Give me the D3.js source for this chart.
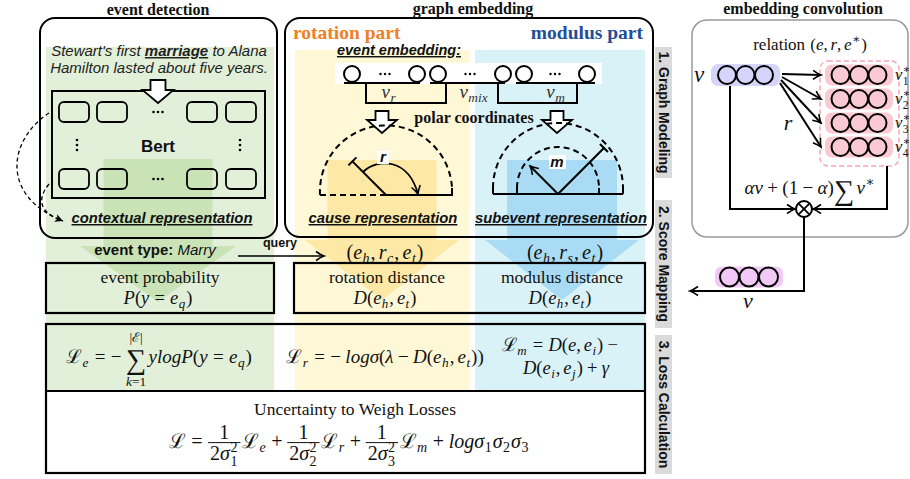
<!DOCTYPE html>
<html><head><meta charset="utf-8">
<script src="https://cdn.jsdelivr.net/npm/d3@7"></script>
<style>body{margin:0;background:#fff} svg{display:block}</style>
</head><body><svg id="c" width="910" height="479"></svg>
<script>
// ---------------- data (text content of the diagram) ----------------
const panelTitles = ["event detection", "graph embedding", "embedding convolution"];
const partTitles = ["rotation part", "modulus part"];
const stageLabels = ["1. Graph Modeling", "2. Score Mapping", "3. Loss Calculation"];
const sentenceLines = [["Stewart's first ", "marriage", " to Alana"], ["Hamilton lasted about five years."]];
const encoderName = "Bert";
const reprLabels = ["contextual representation", "cause representation", "subevent representation"];
const embeddingTitle = "event embedding:";
const embeddingParts = ["v_{r}", "v_{mix}", "v_{m}"];
const polarTitle = "polar coordinates";
const polarSymbols = ["r", "m"];
const eventTypeLabel = ["event type: ", "Marry"];
const queryLabel = "query";
const tripleLabels = ["(e_{h},r_{c},e_{t})", "(e_{h},r_{s},e_{t})"];
const scoreTitles = ["event probability", "rotation distance", "modulus distance"];
const scoreFormulas = ["P(y=e_{q})", "D(e_{h},e_{t})", "D(e_{h},e_{t})"];
const lossFormulas = ["ℒ_{e}=−\\sum_{k=1}^{|ℰ|}ylogP(y=e_{q})", "ℒ_{r}=−logσ(λ−D(e_{h},e_{t}))"];
const lossFormulaM = ["ℒ_{m}=D(e,e_{i})−", "D(e_{i},e_{j})+γ"];
const totalTitle = "Uncertainty to Weigh Losses";
const totalFormula = "ℒ=\\frac{1}{2σ_{1}^{2}}ℒ_{e}+\\frac{1}{2σ_{2}^{2}}ℒ_{r}+\\frac{1}{2σ_{3}^{2}}ℒ_{m}+logσ_{1}σ_{2}σ_{3}";
const convRelation = "\\rm{relation}~(e,r,e^{∗})";
const convSource = "v";
const convNeighbours = ["v_{1}^{∗}", "v_{2}^{∗}", "v_{3}^{∗}", "v_{4}^{∗}"];
const convEdge = "r";
const convCombine = "αv+(1−α)\\sum v^{∗}";
const convOutput = "v";
const nodesPerVector = [0, 1, 2];

// ---------------- styles ----------------
const SANS = "'Liberation Sans', Arial, sans-serif";
const SERIF = "'Liberation Serif', 'Times New Roman', 'DejaVu Serif', serif";
const C = {
  green: "#e2f0d9", greenDark: "#c9e3b6", yellow: "#fff8d6", yellowDark: "#fde8a6",
  blue: "#d9f2f7", blueDark: "#a9dcf4", orange: "#f07f27", navy: "#1f4e9a",
  purple: "#d7d4fb", pink: "#fbc9d3", pinkLine: "#f4a6b6", magenta: "#f2c8f6", gray: "#dadada"
};

const svg = d3.select("#c");
svg.append("rect").attr("width", 910).attr("height", 479).attr("fill", "#fff");
const defs = svg.append("defs");
defs.append("marker").attr("id", "chev").attr("viewBox", "-10 -6 12 12").attr("refX", 0).attr("refY", 0)
  .attr("markerWidth", 12).attr("markerHeight", 12).attr("markerUnits", "userSpaceOnUse").attr("orient", "auto")
  .append("path").attr("d", "M-8,-4.5 Q-3,-1 0,0 Q-3,1 -8,4.5").attr("fill", "none").attr("stroke", "#000").attr("stroke-width", 1.6);
defs.append("marker").attr("id", "tri").attr("viewBox", "-10 -6 12 12").attr("refX", 0).attr("refY", 0)
  .attr("markerWidth", 12).attr("markerHeight", 12).attr("markerUnits", "userSpaceOnUse").attr("orient", "auto")
  .append("path").attr("d", "M-8,-4 L0,0 L-8,4 L-6,0 Z").attr("fill", "#000");

// ---------------- helpers ----------------
function txt(g, x, y, s, o = {}) {
  return g.append("text").attr("x", x).attr("y", y).attr("text-anchor", o.anchor || "middle")
    .attr("font-family", o.family || SANS).attr("font-size", o.size || 14)
    .attr("font-weight", o.weight || "normal").attr("font-style", o.style || "normal")
    .attr("fill", o.fill || "#111").style("text-decoration", o.underline ? "underline" : null).text(s);
}
const line = d3.line();
function path(g, pts, o = {}) {
  return g.append("path").attr("d", line(pts)).attr("fill", "none").attr("stroke", o.stroke || "#000")
    .attr("stroke-width", o.sw || 2).attr("stroke-dasharray", o.dash || null)
    .attr("marker-end", o.marker ? `url(#${o.marker})` : null);
}
function blockArrow(g, cx, top, headY, tip, stemW, headW, o = {}) {
  const pts = [[cx - stemW / 2, top], [cx + stemW / 2, top], [cx + stemW / 2, headY], [cx + headW / 2, headY],
    [cx, tip], [cx - headW / 2, headY], [cx - stemW / 2, headY]];
  g.append("polygon").attr("points", pts.map(p => p.join(",")).join(" "))
    .attr("fill", o.fill || "#fff").attr("stroke", o.stroke || "none").attr("stroke-width", o.sw || 0)
    .attr("stroke-linejoin", "miter");
}
function dots(g, cx, cy, vertical, gap = 4.5, r = 1.3) {
  g.selectAll(null).data([-1, 0, 1]).enter().append("circle")
    .attr("cx", d => vertical ? cx : cx + d * gap).attr("cy", d => vertical ? cy + d * gap : cy)
    .attr("r", r).attr("fill", "#000");
}

// ---- tiny TeX-like layout engine ----
function parseTex(s) {
  let i = 0;
  function readCmd() { i++; let n = ""; while (i < s.length && /[a-zA-Z]/.test(s[i])) n += s[i++]; return n; }
  function readRaw() { if (s[i] !== "{") return ""; i++; let r = ""; while (i < s.length && s[i] !== "}") r += s[i++]; i++; return r; }
  function cmdItems(c) {
    if (c === "frac") { const n = atom(); const d = atom(); return [{ frac: [n, d] }]; }
    if (c === "sum") return [{ sum: true }];
    if (c === "rm") return [{ t: readRaw(), roman: true }];
    return [];
  }
  function atom() {
    if (s[i] === "{") { i++; return seq("}"); }
    if (s[i] === "\\") return cmdItems(readCmd());
    return [{ t: s[i++] }];
  }
  function seq(end) {
    const out = [];
    while (i < s.length) {
      const c = s[i];
      if (c === end) { i++; break; }
      if (c === "_" || c === "^") {
        i++;
        const arg = atom();
        let last = out[out.length - 1];
        if (last && last.sum) { last[c === "_" ? "bot" : "top"] = arg; continue; }
        if (!last || !last.script) { last = { script: true }; out.push(last); }
        last[c === "_" ? "sub" : "sup"] = arg;
        continue;
      }
      if (c === "\\") { out.push(...cmdItems(readCmd())); continue; }
      if (c === "{") { i++; out.push({ grp: seq("}") }); continue; }
      i++;
      if (c === " ") continue;
      const last = out[out.length - 1];
      if (last && last.t !== undefined && !last.roman) last.t += c; else out.push({ t: c });
    }
    return out;
  }
  return seq(null);
}
const LET = /[A-Za-zα-ωΑ-Ω]/;
function mt(g, x, y, s, size, italic, fill) {
  return g.append("text").attr("x", x).attr("y", y).attr("font-family", SERIF).attr("font-size", size)
    .attr("font-style", italic ? "italic" : "normal").attr("fill", fill).text(s);
}
function renderSeq(g, items, size, x, base, o) {
  const x0 = x;
  const st = { prevOp: true };
  items.forEach(it => {
    if (it.t !== undefined) {
      if (it.roman) { x += mt(g, x, base, it.t, size, false, o.fill).node().getComputedTextLength(); st.prevOp = false; return; }
      const runs = it.t.match(/[A-Za-zα-ωΑ-Ω]+|[^A-Za-zα-ωΑ-Ω]/g) || [];
      runs.forEach(r => {
        if (r === "~") { x += size * 0.3; st.prevOp = false; return; }
        const isOp = "=+−".includes(r) && !o.tight;
        const sp = r === "=" ? size * 0.28 : size * 0.23;
        if (isOp && !st.prevOp) x += sp;
        x += mt(g, x, base, r, size, LET.test(r), o.fill).node().getComputedTextLength();
        if (isOp) x += sp;
        if (r === "," && !o.tight) x += size * 0.16;
        st.prevOp = isOp;
      });
    } else if (it.grp) {
      x += renderSeq(g, it.grp, size, x, base, o); st.prevOp = false;
    } else if (it.script) {
      const s2 = size * 0.7;
      const ws = it.sub ? renderSeq(g, it.sub, s2, x + 0.5, base + size * (it.sup ? 0.3 : 0.22), { fill: o.fill, tight: true }) : 0;
      const wp = it.sup ? renderSeq(g, it.sup, s2, x + 0.5, base - size * 0.4, { fill: o.fill, tight: true }) : 0;
      x += Math.max(ws, wp) + 1.5; st.prevOp = false;
    } else if (it.frac) {
      const bar = base - size * 0.27;
      const gn = g.append("g"), gd = g.append("g");
      const wn = renderSeq(gn, it.frac[0], size, 0, bar - size * 0.2, o);
      const wd = renderSeq(gd, it.frac[1], size, 0, bar + size * 0.85, o);
      const w = Math.max(wn, wd) + size * 0.2;
      gn.attr("transform", `translate(${x + (w - wn) / 2},0)`);
      gd.attr("transform", `translate(${x + (w - wd) / 2},0)`);
      g.append("line").attr("x1", x).attr("x2", x + w).attr("y1", bar).attr("y2", bar).attr("stroke", o.fill).attr("stroke-width", 1);
      x += w + size * 0.08; st.prevOp = false;
    } else if (it.sum) {
      const bs = size * 1.5;
      const el = mt(g, 0, base + size * 0.3, "∑", bs, false, o.fill);
      const w = el.node().getComputedTextLength();
      let gt = null, gb = null, wt = 0, wb = 0;
      if (it.top) { gt = g.append("g"); wt = renderSeq(gt, it.top, size * 0.7, 0, base - size * 1.12, { fill: o.fill, tight: true }); }
      if (it.bot) { gb = g.append("g"); wb = renderSeq(gb, it.bot, size * 0.7, 0, base + size * 1.2, { fill: o.fill, tight: true }); }
      const W = Math.max(w, wt, wb);
      el.attr("x", x + (W - w) / 2);
      if (gt) gt.attr("transform", `translate(${x + (W - wt) / 2},0)`);
      if (gb) gb.attr("transform", `translate(${x + (W - wb) / 2},0)`);
      x += W + size * 0.12; st.prevOp = false;
    }
  });
  return x - x0;
}
function formula(parent, x, base, tex, size, o = {}) {
  const g = parent.append("g");
  const w = renderSeq(g, parseTex(tex), size, 0, base, { fill: o.fill || "#111" });
  const a = o.anchor || "middle";
  const dx = a === "middle" ? x - w / 2 : a === "end" ? x - w : x;
  g.attr("transform", `translate(${dx},0)`);
  return g;
}

// ---------------- background columns ----------------
const bg = svg.append("g");
const columns = [
  { x0: 46, x1: 274, y0: 47, fill: C.green },
  { x0: 295, x1: 469, y0: 50, fill: C.yellow },
  { x0: 475, x1: 645, y0: 50, fill: C.blue }
];
const colY1 = 391;
bg.selectAll(null).data(columns).enter().append("rect")
  .attr("x", d => d.x0).attr("y", d => d.y0).attr("width", d => d.x1 - d.x0).attr("height", d => colY1 - d.y0)
  .attr("fill", d => d.fill);
const bigArrows = [
  { cx: 158, top: 159, headY: 246, tip: 302, stemW: 109, headW: 156, fill: C.greenDark },
  { cx: 382, top: 160, headY: 240, tip: 300, stemW: 109, headW: 154, fill: C.yellowDark },
  { cx: 562, top: 160, headY: 240, tip: 300, stemW: 110, headW: 154, fill: C.blueDark }
];
bigArrows.forEach(a => blockArrow(bg, a.cx, a.top, a.headY, a.tip, a.stemW, a.headW, { fill: a.fill }));

// ---------------- panels & titles ----------------
const fg = svg.append("g");
const panels = [
  { x: 40, y: 18, w: 237, h: 220, stroke: "#000", sw: 2 },
  { x: 285, y: 18, w: 368, h: 219, stroke: "#000", sw: 2 },
  { x: 692, y: 20, w: 216, h: 217, stroke: "#9a9a9a", sw: 1.5 }
];
fg.selectAll(null).data(panels).enter().append("rect")
  .attr("x", d => d.x).attr("y", d => d.y).attr("width", d => d.w).attr("height", d => d.h)
  .attr("rx", 15).attr("fill", "none").attr("stroke", d => d.stroke).attr("stroke-width", d => d.sw);
const titlePos = [[158, 15], [473, 14], [803, 14]];
panelTitles.forEach((t, i) => txt(fg, titlePos[i][0], titlePos[i][1], t, { family: SERIF, weight: "bold", size: 16 }));

// ---------------- event detection panel ----------------
const ed = fg.append("g");
sentenceLines.forEach((parts, li) => {
  const t = ed.append("text").attr("x", 159).attr("y", 56 + li * 17).attr("text-anchor", "middle")
    .attr("font-family", SANS).attr("font-size", 15).attr("font-style", "italic").attr("fill", "#222");
  parts.forEach((p, pi) => {
    const ts = t.append("tspan").text(p);
    if (li === 0 && pi === 1) ts.attr("font-weight", "bold").style("text-decoration", "underline");
  });
});
ed.append("rect").attr("x", 52).attr("y", 91).attr("width", 213).attr("height", 107)
  .attr("fill", "none").attr("stroke", "#000").attr("stroke-width", 2);
const tokenX = [59, 97, 187, 226], tokenY = [102, 169];
tokenY.forEach(y => tokenX.forEach(x => ed.append("rect").attr("x", x).attr("y", y).attr("width", 30).attr("height", 20)
  .attr("rx", 5).attr("fill", "none").attr("stroke", "#000").attr("stroke-width", 1.8)));
tokenY.forEach(y => dots(ed, 158, y + 10, false));
[77, 240].forEach(x => dots(ed, x, 145, true, 5));
txt(ed, 158, 152, encoderName, { weight: "bold", size: 17 });
blockArrow(ed, 158, 80, 90, 103, 15, 31, { fill: "#fff", stroke: "#000", sw: 1.8 });
ed.append("path").attr("d", "M49,113 C8,140 0,196 63,221").attr("fill", "none").attr("stroke", "#000")
  .attr("stroke-width", 1.3).attr("stroke-dasharray", "4,3").attr("marker-end", "url(#tri)");
ed.append("path").attr("d", "M49,184 C36,200 40,213 63,221").attr("fill", "none").attr("stroke", "#000")
  .attr("stroke-width", 1.3).attr("stroke-dasharray", "4,3");
const reprPos = [[162, 223], [383, 223], [561, 223]];
reprLabels.forEach((t, i) => txt(fg, reprPos[i][0], reprPos[i][1], t, { weight: "bold", style: "italic", size: 14.8, underline: true }));

// ---------------- graph embedding panel ----------------
const ge = fg.append("g");
txt(ge, 293, 39, partTitles[0], { family: SERIF, weight: "bold", size: 19.5, anchor: "start", fill: C.orange });
txt(ge, 643, 39, partTitles[1], { family: SERIF, weight: "bold", size: 19.5, anchor: "end", fill: C.navy });
txt(ge, 399, 55, embeddingTitle, { weight: "bold", style: "italic", size: 14.5, underline: true });
ge.append("rect").attr("x", 335).attr("y", 63).attr("width", 267).attr("height", 21).attr("fill", "#fff");
const embX = [352, 417, 438, 503, 524, 587];
ge.selectAll(null).data(embX).enter().append("circle").attr("cx", d => d).attr("cy", 74).attr("r", 8)
  .attr("fill", "#fff").attr("stroke", "#000").attr("stroke-width", 2);
[385, 470, 555].forEach(x => dots(ge, x, 74, false, 4.5, 1.2));
[[344, 420], [430, 505], [516, 595]].forEach(s => path(ge, [[s[0], 83], [s[1], 83]], { sw: 2 }));
[[366, 446], [498, 577]].forEach(s => path(ge, [[s[0], 83], [s[0], 103], [s[1], 103], [s[1], 83]], { sw: 2 }));
const partPos = [[389, 98], [474, 98], [556, 98]];
embeddingParts.forEach((t, i) => formula(ge, partPos[i][0], partPos[i][1], t, 19, { fill: "#333" }));
[382, 557].forEach(cx => blockArrow(ge, cx, 111, 120, 133, 13, 30, { fill: "#fff", stroke: "#000", sw: 1.8 }));
txt(ge, 474, 123, polarTitle, { family: SERIF, weight: "bold", size: 16 });

// polar diagram: rotation
(function () {
  const cx = 386, cy = 195, R = 66;
  path(ge, [[cx - R, cy], [cx, cy]], { dash: "6,4" });
  path(ge, [[cx, cy], [cx + R, cy], [cx + R, cy - 7]]);
  ge.append("path").attr("d", `M${cx - R},${cy} A${R},${R} 0 0 1 ${cx + R},${cy - 7}`).attr("fill", "none")
    .attr("stroke", "#000").attr("stroke-width", 2).attr("stroke-dasharray", "6,4");
  const a = Math.PI * 3 / 4, ex = cx + R * Math.cos(a) * 0.72, ey = cy - R * Math.sin(a) * 0.72;
  path(ge, [[cx, cy], [ex, ey]]);
  path(ge, [[ex + 4, ey - 4], [ex - 4, ey + 4]]);
  ge.append("path").attr("d", `M${cx - 23},${cy - 23} C${cx - 8},${cy - 37} ${cx + 22},${cy - 37} ${cx + 32},${cy - 1}`)
    .attr("fill", "none").attr("stroke", "#000").attr("stroke-width", 1.8).attr("marker-end", "url(#chev)");
  ge.append("rect").attr("x", 377).attr("y", 151).attr("width", 12).attr("height", 13).attr("fill", "#fff");
  txt(ge, 383, 162, polarSymbols[0], { weight: "bold", style: "italic", size: 15 });
})();
// polar diagram: modulus
(function () {
  const cx = 558, cy = 194, R = 65, r2 = 41;
  path(ge, [[cx - R, cy], [cx + R, cy]]);
  [cx - R, cx - r2, cx + r2, cx + R].forEach(x => path(ge, [[x, cy], [x, cy - 6]]));
  [R, r2].forEach(rr => ge.append("path").attr("d", `M${cx - rr},${cy - 6} A${rr},${rr} 0 0 1 ${cx + rr},${cy - 6}`)
    .attr("fill", "none").attr("stroke", "#000").attr("stroke-width", 2).attr("stroke-dasharray", "6,4"));
  const ex = cx + R * 0.707, ey = cy - R * 0.707;
  path(ge, [[cx, cy], [ex, ey]]);
  path(ge, [[ex - 4, ey - 4], [ex + 4, ey + 4]]);
  path(ge, [[cx, cy], [cx - r2 * 0.707 + 1, cy - r2 * 0.707 + 1]], { marker: "chev" });
  ge.append("rect").attr("x", 549).attr("y", 155).attr("width", 17).attr("height", 14).attr("fill", "#fff");
  txt(ge, 557, 167, polarSymbols[1], { weight: "bold", style: "italic", size: 15 });
})();

// ---------------- embedding convolution panel ----------------
const ec = fg.append("g");
formula(ec, 810, 50, convRelation, 17);
formula(ec, 699, 82, convSource, 23);
function vector(g, x0, w, yc, h, fill, r) {
  g.append("rect").attr("x", x0).attr("y", yc - h / 2).attr("width", w).attr("height", h).attr("rx", 7).attr("fill", fill);
  const xs = d3.scalePoint().domain(nodesPerVector).range([x0 + w / 2 - 2 * r - 0.5, x0 + w / 2 + 2 * r + 0.5]);
  g.selectAll(null).data(nodesPerVector).enter().append("circle").attr("cx", d => xs(d)).attr("cy", yc).attr("r", r)
    .attr("fill", "none").attr("stroke", "#000").attr("stroke-width", 2);
}
vector(ec, 711, 69, 75, 22, C.purple, 9);
ec.append("rect").attr("x", 820).attr("y", 61).attr("width", 79).attr("height", 105).attr("rx", 8)
  .attr("fill", "none").attr("stroke", C.pinkLine).attr("stroke-width", 1.5).attr("stroke-dasharray", "5,3");
const rowsY = [75, 99, 123, 147];
const arrowStart = [[782, 74], [782, 77], [781, 80], [780, 83]];
rowsY.forEach((y, i) => {
  vector(ec, 825, 68, y, 21, C.pink, 9);
  formula(ec, 895, y + 5, convNeighbours[i], 16.5, { anchor: "start" });
  path(ec, [arrowStart[i], [821, y]], { marker: "chev", sw: 2 });
});
formula(ec, 788, 130, convEdge, 22);
formula(ec, 810, 194, convCombine, 19);
ec.append("circle").attr("cx", 804).attr("cy", 209).attr("r", 8).attr("fill", "#fff").attr("stroke", "#000").attr("stroke-width", 2);
[[-1, -1], [1, -1]].forEach(d => path(ec, [[804 + d[0] * 5.6, 209 + d[1] * 5.6], [804 - d[0] * 5.6, 209 - d[1] * 5.6]], { sw: 1.8 }));
path(ec, [[730, 86], [730, 209], [795, 209]], { marker: "chev" });
path(ec, [[887, 166], [887, 209], [813, 209]], { marker: "chev" });
path(ec, [[804, 217], [804, 291], [690, 291]], { marker: "chev" });
vector(ec, 715, 68, 277, 21, C.magenta, 9.5);
formula(ec, 748, 308, convOutput, 22);

// ---------------- stage labels ----------------
const stages = [[47, 178], [200, 328], [335, 474]];
stageLabels.forEach((t, i) => {
  const [y0, y1] = stages[i];
  fg.append("rect").attr("x", 655).attr("y", y0).attr("width", 17).attr("height", y1 - y0).attr("fill", C.gray);
  const g = fg.append("g").attr("transform", `translate(663.5,${(y0 + y1) / 2}) rotate(90)`);
  txt(g, 0, 5, t, { weight: "bold", size: 14 });
});

// ---------------- score mapping row ----------------
const sm = fg.append("g");
const et = sm.append("text").attr("x", 155).attr("y", 255).attr("text-anchor", "middle").attr("font-family", SANS)
  .attr("font-size", 15).attr("fill", "#111");
et.append("tspan").attr("font-weight", "bold").text(eventTypeLabel[0]);
et.append("tspan").attr("font-style", "italic").text(eventTypeLabel[1]);
txt(sm, 280, 247, queryLabel, { weight: "bold", size: 12.5 });
path(sm, [[238, 256], [324, 256]], { sw: 1.6, marker: "chev" });
const triplePos = [[385, 259], [565, 259]];
tripleLabels.forEach((t, i) => formula(sm, triplePos[i][0], triplePos[i][1], t, 20));
sm.append("rect").attr("x", 46).attr("y", 263).attr("width", 228).attr("height", 50).attr("fill", "none").attr("stroke", "#000").attr("stroke-width", 2.2);
sm.append("rect").attr("x", 294).attr("y", 263).attr("width", 351).attr("height", 50).attr("fill", "none").attr("stroke", "#000").attr("stroke-width", 2.2);
const scoreX = [160, 387, 562];
scoreTitles.forEach((t, i) => txt(sm, scoreX[i], 283, t, { family: SERIF, size: 17.5 }));
scoreFormulas.forEach((t, i) => formula(sm, scoreX[i] - 2, 304, t, 18.5));

// ---------------- loss calculation row ----------------
const lc = fg.append("g");
lc.append("rect").attr("x", 46).attr("y", 324).attr("width", 599).attr("height", 149).attr("fill", "none").attr("stroke", "#000").attr("stroke-width", 2.2);
path(lc, [[46, 391], [645, 391]], { sw: 2.2 });
formula(lc, 159, 363, lossFormulas[0], 19);
formula(lc, 385, 363, lossFormulas[1], 19);
formula(lc, 562, 351, lossFormulaM[0], 18.5);
formula(lc, 566, 374, lossFormulaM[1], 18.5);
txt(lc, 355, 415, totalTitle, { family: SERIF, size: 17.5 });
formula(lc, 349, 448, totalFormula, 20);
</script></body></html>
